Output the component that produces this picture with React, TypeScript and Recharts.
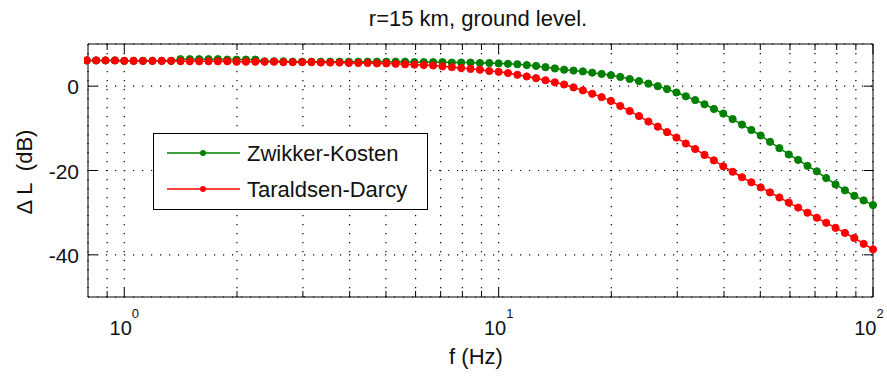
import { LineChart, Line, XAxis, YAxis, CartesianGrid, Legend } from 'recharts'

const FONT = '"Liberation Sans", Arial, sans-serif'

// frequency points (Hz), ~40 per decade
const freqs = [
  0.794, 0.841, 0.891, 0.944, 1.0, 1.059, 1.122, 1.189, 1.259, 1.334,
  1.413, 1.496, 1.585, 1.679, 1.778, 1.884, 1.995, 2.113, 2.239, 2.371,
  2.512, 2.661, 2.818, 2.985, 3.162, 3.35, 3.548, 3.758, 3.981, 4.217,
  4.467, 4.732, 5.012, 5.309, 5.623, 5.957, 6.31, 6.683, 7.079, 7.499,
  7.943, 8.414, 8.913, 9.441, 10.0, 10.59, 11.22, 11.89, 12.59, 13.34,
  14.13, 14.96, 15.85, 16.79, 17.78, 18.84, 19.95, 21.13, 22.39, 23.71,
  25.12, 26.61, 28.18, 29.85, 31.62, 33.5, 35.48, 37.58, 39.81, 42.17,
  44.67, 47.32, 50.12, 53.09, 56.23, 59.57, 63.1, 66.83, 70.79, 74.99,
  79.43, 84.14, 89.13, 94.41, 100.0,
]

const zwikkerKosten = [
  6.1, 6.1, 6.1, 6.1, 6.0, 6.0, 6.0, 6.0, 6.0, 6.0,
  6.4, 6.4, 6.4, 6.4, 6.4, 6.3, 6.3, 6.3, 6.3,
  5.9, 5.9, 5.9, 5.8, 5.8, 5.8, 5.8, 5.8, 5.8, 5.8, 5.8, 5.8,
  5.8, 5.8, 5.8, 5.8, 5.7, 5.7, 5.7, 5.7, 5.6, 5.6, 5.6, 5.5, 5.5, 5.4,
  5.3, 5.2, 5.0, 4.8, 4.5, 4.2, 3.9,
  3.7, 3.5, 3.2, 2.9, 2.6,
  2.2, 1.7, 1.2, 0.6, 0.0, -0.7, -1.5,
  -2.4, -3.3, -4.3, -5.4, -6.5,
  -7.8, -9.1, -10.4, -11.7, -13.2, -14.7, -16.2, -17.5, -18.9, -20.2,
  -21.8, -23.3, -24.7, -26.0, -27.1, -28.2,
]

const taraldsenDarcy = [
  6.1, 6.1, 6.1, 6.1, 6.0,
  6.0, 6.0, 6.0, 6.0, 6.0, 5.9, 5.9, 5.9, 5.9, 5.9,
  5.9, 5.8, 5.8, 5.8, 5.8, 5.8, 5.7, 5.7, 5.7, 5.7,
  5.6, 5.6, 5.6, 5.5, 5.5, 5.5, 5.4, 5.4, 5.3, 5.2,
  5.1, 5.0, 4.9, 4.7, 4.5, 4.3, 4.1, 3.9, 3.6,
  3.4,
  3.1, 2.7, 2.3, 1.9, 1.4, 0.9, 0.4,
  -0.3, -1.0, -1.8, -2.6, -3.5,
  -4.7, -5.9, -7.1, -8.4, -9.6, -10.9, -12.2,
  -13.6, -14.9, -16.3, -17.6, -19.0,
  -20.3, -21.6, -22.8, -24.0, -25.2, -26.4, -27.6, -28.8, -30.0, -31.2,
  -32.4, -33.6, -34.8, -36.0, -37.4, -38.7,
]

const xGridTicks = [0.9, 1, 2, 3, 4, 5, 6, 7, 8, 9, 10, 20, 30, 40, 50, 60, 70, 80, 90, 100]
const xMajorTicks = [1, 10, 100]
const xTickExponents = ['0', '1', '2']
const yTicks = [-40, -20, 0]

const seriesNames = ['Zwikker-Kosten', 'Taraldsen-Darcy']
const seriesColors = ['#008000', '#ff0000']

const data = freqs.map((f, i) => ({ f, zk: zwikkerKosten[i], td: taraldsenDarcy[i] }))

function BottomTick({ x, y, payload }: any) {
  const idx = xMajorTicks.indexOf(payload.value)
  const major = idx >= 0
  // keep the last label inside the page
  const lx = Math.min(x, 869)
  return (
    <g>
      <line x1={x} x2={x} y1={y} y2={y - (major ? 9 : 6)} stroke="#000" />
      {major && (
        <text x={lx} y={335} textAnchor="middle" fontSize={20} fill="#111" fontFamily={FONT}>
          10<tspan dy={-17} fontSize={13}>{xTickExponents[idx]}</tspan>
        </text>
      )}
    </g>
  )
}

function TopTick({ x, y, payload }: any) {
  const major = xMajorTicks.indexOf(payload.value) >= 0
  return <line x1={x} x2={x} y1={y} y2={y + (major ? 9 : 6)} stroke="#000" />
}

function LeftTick({ x, y, payload }: any) {
  return (
    <g>
      <line x1={x} x2={x + 9} y1={y} y2={y} stroke="#000" />
      <text x={x - 9} y={y + 8} textAnchor="end" fontSize={21} fill="#111" fontFamily={FONT}>
        {payload.value}
      </text>
    </g>
  )
}

function RightTick({ x, y }: any) {
  return <line x1={x} x2={x - 9} y1={y} y2={y} stroke="#000" />
}

function LegendBox() {
  const rows = [20, 56]
  return (
    <svg width={275} height={77} style={{ display: 'block' }}>
      <rect x={0.5} y={0.5} width={274} height={76} fill="#fff" stroke="#000" />
      {rows.map((ry, i) => (
        <g key={i}>
          <line x1={14} x2={87} y1={ry} y2={ry} stroke={seriesColors[i]} strokeWidth={1.5} />
          <circle cx={50} cy={ry} r={3} fill={seriesColors[i]} />
          <text x={94} y={ry + 8} fontSize={22} fill="#111" fontFamily={FONT}>
            {seriesNames[i]}
          </text>
        </g>
      ))}
    </svg>
  )
}

export default function App() {
  return (
    <div style={{ position: 'absolute', left: 0, top: 0, background: '#fff', fontFamily: FONT }}>
      <LineChart width={887} height={376} data={data} margin={{ top: 0, right: 0, bottom: 0, left: 0 }}>
        <CartesianGrid
          xAxisId="b"
          yAxisId="l"
          stroke="#000"
          strokeWidth={1.2}
          strokeDasharray="1.2 7.8"
        />
        <XAxis
          xAxisId="b"
          dataKey="f"
          type="number"
          scale="log"
          domain={[0.8, 100]}
          allowDataOverflow
          ticks={xGridTicks}
          interval={0}
          height={79}
          tickSize={0}
          tickMargin={0}
          tickLine={false}
          axisLine={{ stroke: '#000' }}
          tick={<BottomTick />}
          label={() => (
            <text x={476} y={364} textAnchor="middle" fontSize={22} fill="#111" fontFamily={FONT}>
              f (Hz)
            </text>
          )}
        />
        <XAxis
          xAxisId="t"
          orientation="top"
          dataKey="f"
          type="number"
          scale="log"
          domain={[0.8, 100]}
          allowDataOverflow
          ticks={xGridTicks}
          interval={0}
          height={44}
          tickSize={0}
          tickMargin={0}
          tickLine={false}
          axisLine={{ stroke: '#000' }}
          tick={<TopTick />}
          label={() => (
            <text x={478} y={26} textAnchor="middle" fontSize={22} fill="#111" fontFamily={FONT}>
              r=15 km, ground level.
            </text>
          )}
        />
        <YAxis
          yAxisId="l"
          type="number"
          domain={[-50, 10]}
          allowDataOverflow
          ticks={yTicks}
          interval={0}
          width={88}
          tickSize={0}
          tickMargin={0}
          tickLine={false}
          axisLine={{ stroke: '#000' }}
          tick={<LeftTick />}
          label={() => (
            <text
              x={24}
              y={172}
              transform="rotate(-90 24 172)"
              textAnchor="middle"
              dominantBaseline="central"
              fontSize={22}
              fill="#111"
              fontFamily={FONT}
              style={{ whiteSpace: 'pre' }}
            >
              {'Δ L  (dB)'}
            </text>
          )}
        />
        <YAxis
          yAxisId="r"
          orientation="right"
          type="number"
          domain={[-50, 10]}
          allowDataOverflow
          ticks={yTicks}
          interval={0}
          width={14}
          tickSize={0}
          tickMargin={0}
          tickLine={false}
          axisLine={{ stroke: '#000' }}
          tick={<RightTick />}
        />
        <Legend
          layout="horizontal"
          verticalAlign="middle"
          align="center"
          content={<LegendBox />}
          wrapperStyle={{ left: 153, top: 133, width: 275, height: 77 }}
        />
        <Line
          xAxisId="b"
          yAxisId="l"
          dataKey="zk"
          name={seriesNames[0]}
          type="linear"
          stroke={seriesColors[0]}
          strokeWidth={1.5}
          dot={{ r: 3.6, fill: seriesColors[0], stroke: seriesColors[0], strokeWidth: 1, clipDot: false }}
          isAnimationActive={false}
        />
        <Line
          xAxisId="b"
          yAxisId="l"
          dataKey="td"
          name={seriesNames[1]}
          type="linear"
          stroke={seriesColors[1]}
          strokeWidth={1.5}
          dot={{ r: 3.6, fill: seriesColors[1], stroke: seriesColors[1], strokeWidth: 1, clipDot: false }}
          isAnimationActive={false}
        />
      </LineChart>
    </div>
  )
}
